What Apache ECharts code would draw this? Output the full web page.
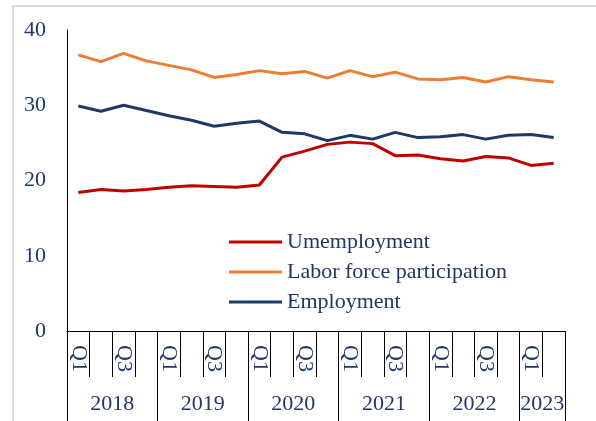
<!DOCTYPE html>
<html>
<head>
<meta charset="utf-8">
<script src="https://cdn.jsdelivr.net/npm/echarts@6/dist/echarts.min.js"></script>
<style>
  html, body { margin: 0; padding: 0; background: #fff; }
  #chart { width: 596px; height: 421px; }
</style>
</head>
<body>
<div id="chart"></div>
<script>
// Quarterly rates, 2018 Q1 to 2023 Q2 (%)
const quarters = ['Q1','Q2','Q3','Q4','Q1','Q2','Q3','Q4','Q1','Q2','Q3','Q4',
                  'Q1','Q2','Q3','Q4','Q1','Q2','Q3','Q4','Q1','Q2'];
const years = ['2018','2019','2020','2021','2022','2023'];
const quartersPerYear = [4, 4, 4, 4, 4, 2];
const yTicks = [0, 10, 20, 30, 40];

const unemployment = [18.4, 18.8, 18.6, 18.8, 19.1, 19.3, 19.2, 19.1, 19.4, 23.1, 23.9,
                      24.8, 25.1, 24.9, 23.3, 23.4, 22.9, 22.6, 23.2, 23.0, 22.0, 22.3];
const laborForce   = [36.7, 35.8, 36.9, 35.9, 35.3, 34.7, 33.7, 34.1, 34.6, 34.2, 34.5,
                      33.6, 34.6, 33.8, 34.4, 33.5, 33.4, 33.7, 33.1, 33.8, 33.4, 33.1];
const employment   = [29.9, 29.2, 30.0, 29.3, 28.6, 28.0, 27.2, 27.6, 27.9, 26.4, 26.2,
                      25.3, 26.0, 25.5, 26.4, 25.7, 25.8, 26.1, 25.5, 26.0, 26.1, 25.7];

const navy = '#1f3864';
const font = 'Liberation Serif, Times New Roman, serif';

// Year boundaries and year label centres, in quarter units
const yearEdges = [0];
const yearCentres = [];
quartersPerYear.forEach(function (n) {
  const start = yearEdges[yearEdges.length - 1];
  yearCentres.push(start + n / 2);
  yearEdges.push(start + n);
});

const chart = echarts.init(document.getElementById('chart'), null, { renderer: 'canvas' });

chart.setOption({
  backgroundColor: '#fff',
  animation: false,
  textStyle: { fontFamily: font },
  graphic: [{
    type: 'rect',
    shape: { x: 13, y: 6, width: 700, height: 500 },
    style: { fill: 'none', stroke: '#d9d9d9', lineWidth: 2 },
    silent: true
  }],
  grid: { left: 67, right: 31, top: 30, bottom: 90 },
  legend: {
    orient: 'vertical',
    left: 229,
    top: 231,
    padding: 0,
    itemWidth: 53,
    itemHeight: 3,
    itemGap: 8,
    icon: 'rect',
    textStyle: { fontFamily: font, fontSize: 22, color: navy, lineHeight: 22 },
    data: ['Umemployment', 'Labor force participation', 'Employment']
  },
  xAxis: [{
    type: 'category',
    data: quarters,
    boundaryGap: true,
    axisLine: { show: true, lineStyle: { color: '#000', width: 1 } },
    axisTick: { show: true, interval: 0, length: 46, lineStyle: { color: '#000', width: 1 } },
    axisLabel: {
      interval: 1,
      rotate: -90,
      margin: 14,
      fontFamily: font,
      fontSize: 22,
      color: navy
    },
    splitLine: { show: false }
  }, {
    type: 'value',
    min: 0,
    max: quarters.length,
    position: 'bottom',
    axisLine: { show: false },
    axisTick: {
      show: true,
      customValues: yearEdges,
      length: 92,
      lineStyle: { color: '#000', width: 1 }
    },
    axisLabel: {
      customValues: yearCentres,
      margin: 62,
      fontFamily: font,
      fontSize: 22,
      color: navy,
      formatter: function (v) {
        const i = yearCentres.indexOf(v);
        return i >= 0 ? years[i] : '';
      }
    },
    splitLine: { show: false }
  }],
  yAxis: {
    type: 'value',
    min: yTicks[0],
    max: yTicks[yTicks.length - 1],
    interval: 10,
    axisLine: { show: true, lineStyle: { color: '#000', width: 1 } },
    axisTick: { show: false },
    splitLine: { show: false },
    axisLabel: { margin: 21, fontFamily: font, fontSize: 22, color: navy }
  },
  series: [{
    name: 'Umemployment',
    type: 'line',
    data: unemployment,
    xAxisIndex: 0,
    symbol: 'none',
    lineStyle: { width: 3, color: '#c00000' },
    itemStyle: { color: '#c00000' }
  }, {
    name: 'Labor force participation',
    type: 'line',
    data: laborForce,
    xAxisIndex: 0,
    symbol: 'none',
    lineStyle: { width: 3, color: '#ed7d31' },
    itemStyle: { color: '#ed7d31' }
  }, {
    name: 'Employment',
    type: 'line',
    data: employment,
    xAxisIndex: 0,
    symbol: 'none',
    lineStyle: { width: 3, color: '#203864' },
    itemStyle: { color: '#203864' }
  }]
});
</script>
</body>
</html>
